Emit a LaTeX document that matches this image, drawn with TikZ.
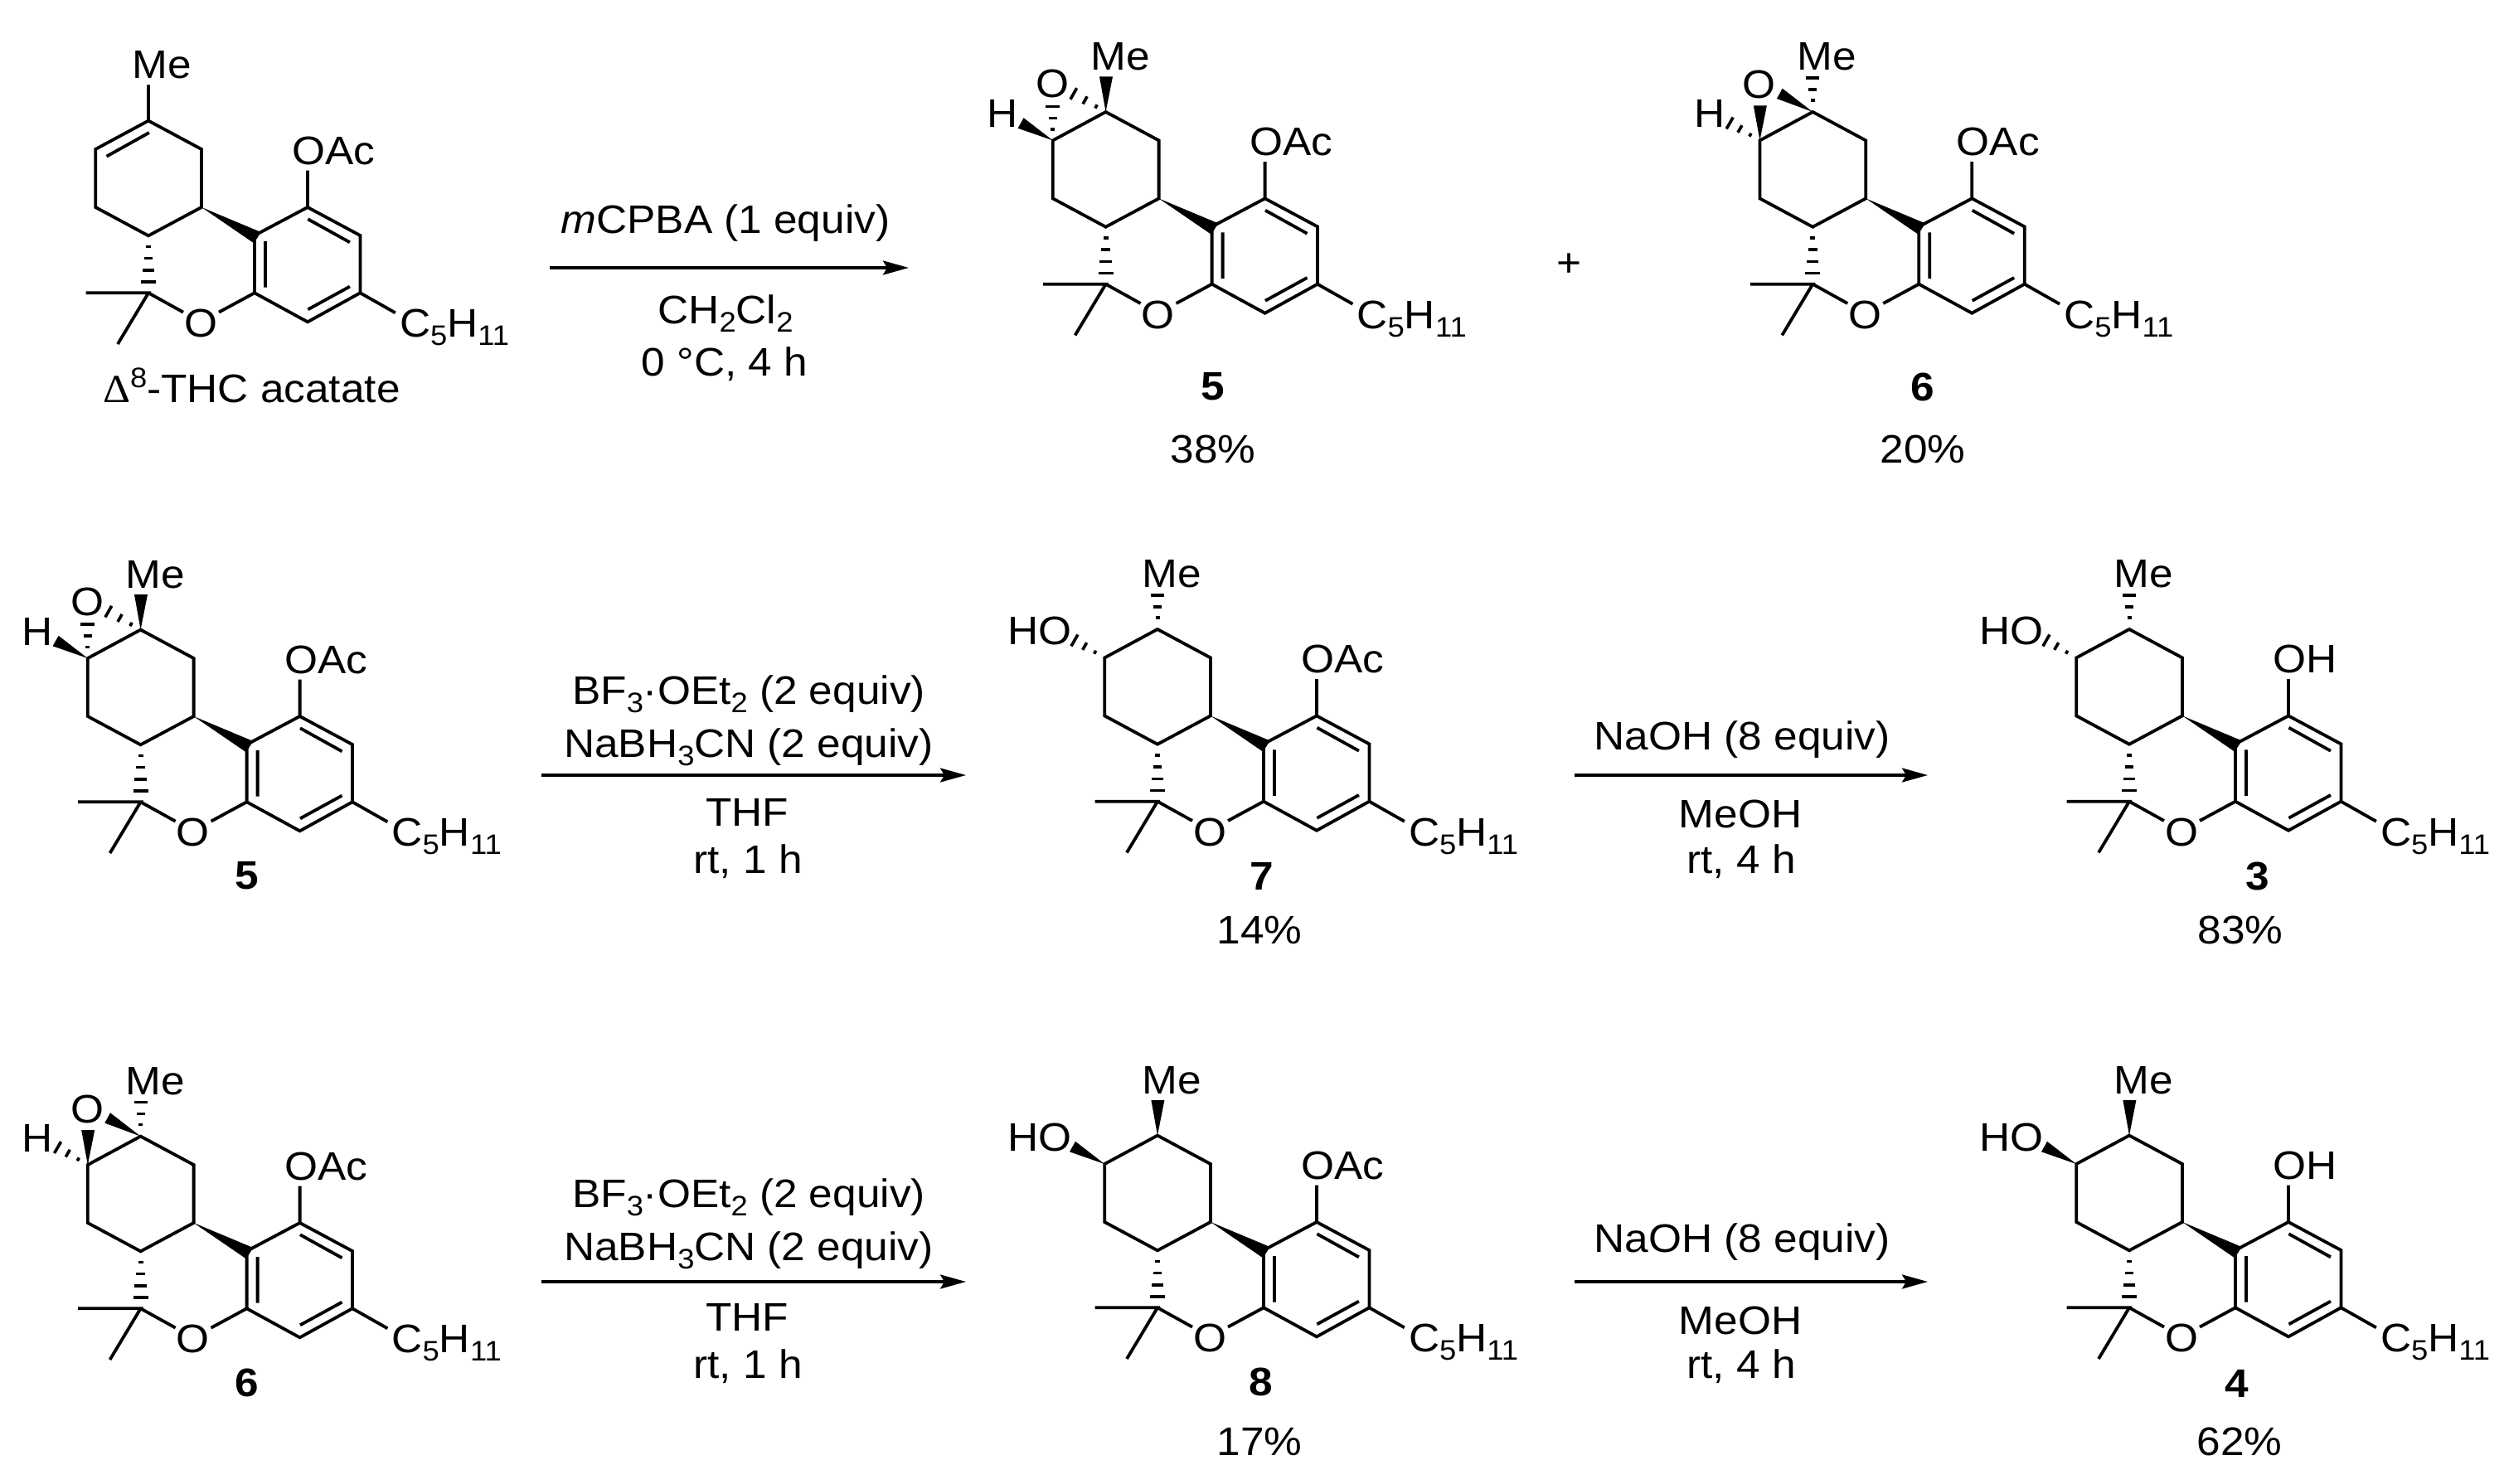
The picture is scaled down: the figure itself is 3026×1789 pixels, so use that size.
\documentclass[tikz,border=0pt]{standalone}
\usepackage{fontspec}
\setmainfont[FakeStretch=1.07]{Liberation Sans}
\newfontfamily\grk[FakeStretch=1.07]{Liberation Serif}
\usetikzlibrary{calc,arrows.meta}
\newcommand\fsz{\fontsize{24}{24}\selectfont}
\newcommand\subt[1]{\raisebox{-5pt}{\fontsize{17}{17}\selectfont #1}}
\newcommand\supt[1]{\raisebox{9pt}{\fontsize{17}{17}\selectfont #1}}
\tikzset{
  bond/.style={line width=1.9pt,line join=miter,line cap=butt},
  hashln/.style={line width=1.8pt},
  wedgefill/.style={fill=black,draw=none},
  arr/.style={line width=1.7pt,-{Stealth[length=15.5pt,width=8.5pt,inset=2.5pt]}},
  txt/.style={inner sep=0pt,outer sep=0pt,font=\fsz},
  lw/.style={txt,anchor=base west},
  lc/.style={txt,anchor=base},
  lb/.style={txt,anchor=base,font=\fsz\bfseries}
}
\newcommand\hashb[3]{\foreach \hf/\hw in {#3}{\coordinate (hh) at ($(#1)!\hf!(#2)$); \draw[hashln] ($(hh)!\hw pt!90:(#2)$) -- ($(hh)!\hw pt!-90:(#2)$);}}
\newcommand\wedgeb[3]{\fill[wedgefill] (#1) -- (#2) -- (#3) -- cycle;}
% core skeleton: prefix, x, y, phenol text
\newcommand\coremol[4]{%
\begin{scope}[shift={(#2,#3)}]
\coordinate (#1q) at (0,0);
\coordinate (#1t) at (0,-207.7);
\coordinate (#1tl) at (-63.8,-173.3);
\coordinate (#1bl) at (-63.8,-103.3);
\coordinate (#1b) at (0,-69);
\coordinate (#1br) at (64,-103.3);
\coordinate (#1tr) at (64,-173.3);
\coordinate (#1a1) at (192,-103.3);
\coordinate (#1a2) at (255.4,-69.3);
\coordinate (#1a3) at (255.4,0);
\coordinate (#1a4) at (192,35);
\coordinate (#1a5) at (128,0);
\coordinate (#1a6) at (128,-69.3);
\coordinate (#1oa) at (42,23.3);
\coordinate (#1ob) at (85,23.3);
\coordinate (#1m1) at (-75.4,0);
\coordinate (#1m2) at (-37,61.7);
\coordinate (#1ol) at (192,-147.7);
\coordinate (#1ce) at (297.8,24);
\coordinate (#1d1a) at (192.4,-89);
\coordinate (#1d1b) at (242.9,-61);
\coordinate (#1d2a) at (242.9,-7.7);
\coordinate (#1d2b) at (192.4,20);
\coordinate (#1d3a) at (141,-62.3);
\coordinate (#1d3b) at (141,-6.7);
\coordinate (#1w1) at (135.7,-73.3);
\coordinate (#1w2) at (127.2,-60);
\draw[bond] (#1t)--(#1tr)--(#1br)--(#1b)--(#1bl)--(#1tl)--cycle;
\draw[bond] (#1a1)--(#1a2)--(#1a3)--(#1a4)--(#1a5)--(#1a6)--cycle;
\draw[bond] (#1d1a)--(#1d1b) (#1d2a)--(#1d2b) (#1d3a)--(#1d3b);
\draw[bond] (#1a1)--(#1ol) (#1a3)--(#1ce);
\draw[bond] (#1m1)--(#1q)--(#1m2) (#1q)--(#1oa) (#1ob)--(#1a5);
\wedgeb{#1br}{#1w1}{#1w2}
\hashb{#1b}{#1q}{0.193/1.5,0.396/2.65,0.604/3.6,0.807/4.5}
\node[lc] (#1O) at (63,53.3) {O};
\node[lw] (#1ph) at (173.7,-155) {#4};
\node[lw] (#1pe) at (303,53.3) {C\subt{5}H\subt{11}};
\end{scope}}
% tetrasubstituted pieces
\newcommand\wedgeMe[1]{\begin{scope}[shift={(#1q)}]
\coordinate (#1me1) at (-7.6,-250.3);\coordinate (#1me2) at (8.4,-250.3);
\wedgeb{#1t}{#1me1}{#1me2}
\node[lw] (#1Me) at (-18.3,-258.3) {Me};\end{scope}}
\newcommand\hashMe[1]{\begin{scope}[shift={(#1q)}]
\coordinate (#1mee) at (0,-255);
\hashb{#1t}{#1mee}{0.296/1.25,0.577/2.5,0.867/4}
\node[lw] (#1Me) at (-18.3,-258.3) {Me};\end{scope}}
\newcommand\hashLeft[1]{\begin{scope}[shift={(#1q)}]
\coordinate (#1le) at (-110,-200);
\hashb{#1tl}{#1le}{0.25/1.1,0.52/2.5,0.785/4}\end{scope}}
\newcommand\wedgeLeft[1]{\begin{scope}[shift={(#1q)}]
\coordinate (#1lw1) at (-99,-200.5);\coordinate (#1lw2) at (-106,-188);
\wedgeb{#1tl}{#1lw1}{#1lw2}\end{scope}}
\newcommand\epoxA[1]{% compound 5
\wedgeMe{#1}\wedgeLeft{#1}
\begin{scope}[shift={(#1q)}]
\coordinate (#1ue) at (-63.8,-220);\coordinate (#1re) at (-50,-236);
\hashb{#1tl}{#1ue}{0.293/1.25,0.579/2.65,0.879/4.2}
\hashb{#1t}{#1re}{0.232/1.2,0.5/2.6,0.776/3.9}
\node[lc] (#1Oe) at (-64.3,-225) {O};
\node[lw] (#1H) at (-143.3,-189.3) {H};
\end{scope}}
\newcommand\epoxB[1]{% compound 6
\hashMe{#1}\hashLeft{#1}
\begin{scope}[shift={(#1q)}]
\coordinate (#1u1) at (-71.4,-215.3);\coordinate (#1u2) at (-55.4,-215.3);
\coordinate (#1r1) at (-36.6,-236);\coordinate (#1r2) at (-43.3,-223.7);
\wedgeb{#1tl}{#1u1}{#1u2}
\wedgeb{#1t}{#1r1}{#1r2}
\node[lc] (#1Oe) at (-64.3,-224.3) {O};
\node[lw] (#1H) at (-142.9,-189.3) {H};
\end{scope}}
\newcommand\HOlab[1]{\begin{scope}[shift={(#1q)}]\node[lw] (#1HO) at (-181,-189) {HO};\end{scope}}
\begin{document}
\begin{tikzpicture}[x=0.5pt,y=-0.5pt]
\useasboundingbox (0,0) rectangle (3026,1789);
\fill[white] (0,0) rectangle (3026,1789);
% starting material
\coremol{A}{179}{353.3}{OAc}
\begin{scope}[shift={(Aq)}]
\coordinate (Ame) at (0,-251);
\coordinate (Ad1) at (0.9,-193.3);
\coordinate (Ad2) at (-50.4,-164.7);
\draw[bond] (At)--(Ame) (Ad1)--(Ad2);
\node[lw] (AMe) at (-19.2,-259) {Me};
\end{scope}
\node[lw] (Alab) at (124,485) {{\grk Δ}\supt{8}-THC acatate};
% row 1 products
\coremol{B}{1333.6}{342.7}{OAc}\epoxA{B}
\coremol{C}{2186.25}{342.7}{OAc}\epoxB{C}
\node[lb] (Bn) at (1462.6,482) {5};
\node[lc] (By) at (1463,558) {38\%};
\node[lb] (Cn) at (2319,483) {6};
\node[lc] (Cy) at (2319,558) {20\%};
\node[txt,anchor=center] (plus) at (1892,320) {+};
% row 1 arrow
\coordinate (r1s) at (663,323); \coordinate (r1e) at (1096,323);
\draw[arr] (r1s)--(r1e);
\node[lc] (r1a) at (875,281) {\textit{m}CPBA (1 equiv)};
\node[lc] (r1b) at (875,390) {CH\subt{2}Cl\subt{2}};
\node[lc] (r1c) at (874,453) {0 °C, 4 h};
% row 2
\coremol{D}{169.6}{967.3}{OAc}\epoxA{D}
\node[lb] (Dn) at (298,1072.7) {5};
\coremol{E}{1396}{966.7}{OAc}\hashMe{E}\hashLeft{E}\HOlab{E}
\node[lb] (En) at (1521.5,1073) {7};
\node[lc] (Ey) at (1519,1138) {14\%};
\coremol{F}{2568}{966.7}{OH}\hashMe{F}\hashLeft{F}\HOlab{F}
\node[lb] (Fn) at (2722.4,1073) {3};
\node[lc] (Fy) at (2702,1138) {83\%};
\coordinate (r2s) at (652.5,935); \coordinate (r2e) at (1165,935);
\draw[arr] (r2s)--(r2e);
\node[lc] (r2a) at (903,849) {BF\subt{3}\textperiodcentered OEt\subt{2} (2 equiv)};
\node[lc] (r2b) at (903,913) {NaBH\subt{3}CN (2 equiv)};
\node[lc] (r2c) at (901,996) {THF};
\node[lc] (r2d) at (902,1053) {rt, 1 h};
\coordinate (r3s) at (1899,935); \coordinate (r3e) at (2325,935);
\draw[arr] (r3s)--(r3e);
\node[lc] (r3a) at (2101,904) {NaOH (8 equiv)};
\node[lc] (r3b) at (2099,998) {MeOH};
\node[lc] (r3c) at (2100,1053) {rt, 4 h};
% row 3
\coremol{G}{169.6}{1578.3}{OAc}\epoxB{G}
\node[lb] (Gn) at (298,1684) {6};
\coremol{H}{1396}{1577.3}{OAc}\wedgeMe{H}\wedgeLeft{H}\HOlab{H}
\node[lb] (Hn) at (1521,1683) {8};
\node[lc] (Hy) at (1519,1755) {17\%};
\coremol{I}{2568}{1577.3}{OH}\wedgeMe{I}\wedgeLeft{I}\HOlab{I}
\node[lb] (In) at (2698,1685) {4};
\node[lc] (Iy) at (2701,1755) {62\%};
\coordinate (r4s) at (652.5,1546); \coordinate (r4e) at (1165,1546);
\draw[arr] (r4s)--(r4e);
\node[lc] (r4a) at (903,1456) {BF\subt{3}\textperiodcentered OEt\subt{2} (2 equiv)};
\node[lc] (r4b) at (903,1520) {NaBH\subt{3}CN (2 equiv)};
\node[lc] (r4c) at (901,1605) {THF};
\node[lc] (r4d) at (902,1662) {rt, 1 h};
\coordinate (r5s) at (1899,1546); \coordinate (r5e) at (2325,1546);
\draw[arr] (r5s)--(r5e);
\node[lc] (r5a) at (2101,1510) {NaOH (8 equiv)};
\node[lc] (r5b) at (2099,1609) {MeOH};
\node[lc] (r5c) at (2100,1662) {rt, 4 h};
\end{tikzpicture}
\end{document}
